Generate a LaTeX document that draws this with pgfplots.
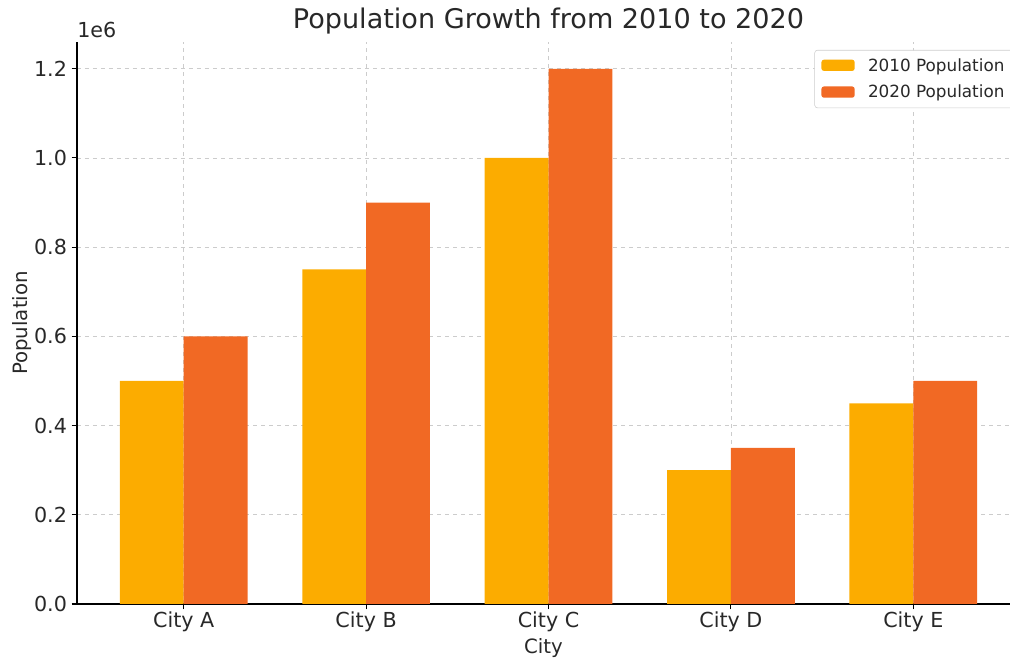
\documentclass[border=0pt]{standalone}
\usepackage{pgfplots}
\pgfplotsset{compat=1.18}
\usepackage{fontspec}
\setmainfont{DejaVu Sans}
\definecolor{c2010}{RGB}{252,172,0}
\definecolor{c2020}{RGB}{241,105,36}
\definecolor{txt}{RGB}{40,40,40}
\begin{document}
\begin{tikzpicture}
\begin{axis}[
  at={(0,0)}, anchor=south west,
  scale only axis, width=699.75pt, height=421.5pt,
  xmin=-0.585, xmax=4.53, ymin=0, ymax=1260000,
  axis x line*=bottom, axis y line*=left,
  axis line style={line width=1pt, black},
  xtick={0,1,2,3,4},
  xticklabels={City A, City B, City C, City D, City E},
  ytick={0,200000,400000,600000,800000,1000000,1200000},
  yticklabels={0.0,0.2,0.4,0.6,0.8,1.0,1.2},
  scaled y ticks=false,
  tick align=outside, major tick length=4pt,
  tick style={black, line width=0.8pt},
  grid=major,
  major grid style={dashed, line width=0.6pt, gray!40},
  ticklabel style={font=\fontsize{15.5}{18}\selectfont, text=txt},
  xticklabel style={yshift=2pt},
  ylabel={Population}, xlabel={City},
  label style={font=\fontsize{14.8}{17}\selectfont, text=txt},
  ylabel style={yshift=-5pt},
  xlabel style={yshift=1.5pt},
  ybar, bar width=0.35,
  legend style={at={(rel axis cs:1,1)}, anchor=north east, xshift=3pt, yshift=-6pt,
    draw=gray!40, rounded corners=2pt, font=\fontsize{12.6}{15}\selectfont, text=txt,
    inner xsep=5pt, inner ysep=4pt, row sep=5pt},
  legend image code/.code={\fill[#1] (0pt,-4pt) rectangle (25pt,4.5pt); \path (33pt,0pt);},
  legend cell align=left,
  clip=false,
]
\addplot[fill=c2010, draw=none, bar shift=-0.175] coordinates {(0,500000) (1,750000) (2,1000000) (3,300000) (4,450000)};
\addplot[fill=c2020, draw=none, bar shift=0.175] coordinates {(0,600000) (1,900000) (2,1200000) (3,350000) (4,500000)};
\legend{2010 Population, 2020 Population}
\node[anchor=south west, font=\fontsize{15.5}{18}\selectfont, text=txt, inner sep=0pt] at ([yshift=3pt]rel axis cs:0,1) {1e6};
\node[font=\fontsize{20.3}{24}\selectfont, text=txt, anchor=base] at ([yshift=10pt]axis cs:2,1260000) {Population Growth from 2010 to 2020};
\end{axis}
\pgfresetboundingbox
\path[use as bounding box] (-57.75pt,-41.25pt) rectangle (699.75pt,453pt);
\end{tikzpicture}
\end{document}
